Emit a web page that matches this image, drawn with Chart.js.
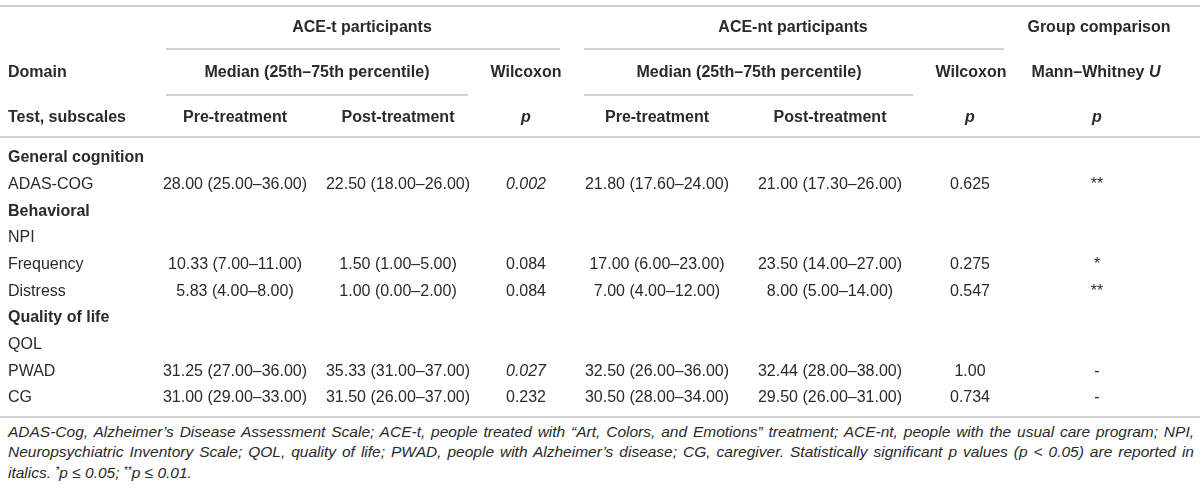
<!DOCTYPE html>
<html>
<head>
<meta charset="utf-8">
<script src="https://cdn.jsdelivr.net/npm/chart.js@4.4.1/dist/chart.umd.min.js"></script>
<style>
  body { margin: 0; background: #fff; }
  #wrap { position: relative; width: 1200px; height: 490px; }
  #note {
    position: absolute; left: 8px; top: 422px; width: 1186px;
    font-family: "Liberation Sans", Arial, sans-serif; font-style: italic; font-size: 14px;
    color: #2a2a2a; line-height: 19.5px;
  }
  #note div { white-space: nowrap; }
  #note .j { text-align: justify; text-align-last: justify; }
  #note sup { font-size: 0.65em; vertical-align: 0.35em; }
</style>
</head>
<body>
<div id="wrap">
  <canvas id="table" width="1200" height="420"></canvas>
  <div id="note">
    <div class="j" id="note1">ADAS-Cog, Alzheimer’s Disease Assessment Scale; ACE-t, people treated with “Art, Colors, and Emotions” treatment; ACE-nt, people with the usual care program; NPI,</div>
    <div class="j" id="note2">Neuropsychiatric Inventory Scale; QOL, quality of life; PWAD, people with Alzheimer’s disease; CG, caregiver. Statistically significant p values (p &lt; 0.05) are reported in</div>
    <div>italics. <sup>*</sup>p ≤ 0.05; <sup>**</sup>p ≤ 0.01.</div>
  </div>
</div>
<script>
// table content (underscores mark italic text)
const groupHeaders = ["ACE-t participants", "ACE-nt participants", "Group comparison"];
const statHeaders = ["Domain", "Median (25th–75th percentile)", "Wilcoxon", "Median (25th–75th percentile)", "Wilcoxon", "Mann–Whitney _U_"];
const columnHeaders = ["Test, subscales", "Pre-treatment", "Post-treatment", "_p_", "Pre-treatment", "Post-treatment", "_p_", "_p_"];

const rowLabels = ["General cognition", "ADAS-COG", "Behavioral", "NPI", "Frequency", "Distress", "Quality of life", "QOL", "PWAD", "CG"];
const sectionRows = [0, 2, 6];

// median, 25th, 75th percentile
const acetPre = [null, [28.00, 25.00, 36.00], null, null, [10.33, 7.00, 11.00], [5.83, 4.00, 8.00], null, null, [31.25, 27.00, 36.00], [31.00, 29.00, 33.00]];
const acetPost = [null, [22.50, 18.00, 26.00], null, null, [1.50, 1.00, 5.00], [1.00, 0.00, 2.00], null, null, [35.33, 31.00, 37.00], [31.50, 26.00, 37.00]];
const acetWilcoxon = [null, "0.002", null, null, "0.084", "0.084", null, null, "0.027", "0.232"];
const acentPre = [null, [21.80, 17.60, 24.00], null, null, [17.00, 6.00, 23.00], [7.00, 4.00, 12.00], null, null, [32.50, 26.00, 36.00], [30.50, 28.00, 34.00]];
const acentPost = [null, [21.00, 17.30, 26.00], null, null, [23.50, 14.00, 27.00], [8.00, 5.00, 14.00], null, null, [32.44, 28.00, 38.00], [29.50, 26.00, 31.00]];
const acentWilcoxon = [null, "0.625", null, null, "0.275", "0.547", null, null, "1.00", "0.734"];
const mannWhitney = [null, "**", null, null, "*", "**", null, null, "-", "-"];

// layout
const TEXT = "#2a2a2a";
const RULE = "#d0d0d0";
const FONT = "\"Liberation Sans\", Arial, sans-serif";
const SIZE = 16;
const colX = [8, 235, 398, 526, 657, 830, 970, 1097];
const groupX = [362, 793, 1099];
const statX = [8, 317, 526, 749, 971, 1096];
const headerRows = [-4.9, -3.22, -1.5];

function fmtRange(v) {
  return v ? `${v[0].toFixed(2)} (${v[1].toFixed(2)}–${v[2].toFixed(2)})` : null;
}
function fmtP(p) {
  if (!p) return null;
  return parseFloat(p) < 0.05 ? `_${p}_` : p;
}

const bodyColumns = [
  rowLabels,
  acetPre.map(fmtRange),
  acetPost.map(fmtRange),
  acetWilcoxon.map(fmtP),
  acentPre.map(fmtRange),
  acentPost.map(fmtRange),
  acentWilcoxon.map(fmtP),
  mannWhitney
];

const cells = [];
groupHeaders.forEach((t, i) => cells.push({ x: groupX[i], y: headerRows[0], text: t, bold: true }));
statHeaders.forEach((t, i) => cells.push({ x: statX[i], y: headerRows[1], text: t, bold: true, align: i === 0 ? "left" : "center" }));
columnHeaders.forEach((t, i) => cells.push({ x: colX[i], y: headerRows[2], text: t, bold: true, align: i === 0 ? "left" : "center" }));
bodyColumns.forEach((col, c) => {
  col.forEach((t, r) => {
    if (t === null) return;
    cells.push({ x: colX[c], y: r, text: t, bold: c === 0 && sectionRows.includes(r), align: c === 0 ? "left" : "center" });
  });
});

// horizontal rules: [y in row units, x from, x to]
const rules = [
  [-5.7, 0, 1200],
  [-4.09, 166, 560], [-4.09, 584, 1004],
  [-2.36, 166, 468], [-2.36, 584, 913],
  [-0.79, 0, 1200],
  [9.71, 0, 1200]
];

const ruleSets = rules.map(([y, x0, x1]) => ({
  data: [{ x: x0, y }, { x: x1, y }],
  showLine: true,
  borderColor: RULE,
  borderWidth: 2,
  pointRadius: 0
}));

function drawRich(ctx, text, x, y, align, bold) {
  const parts = text.split("_").map((s, i) => ({ s, italic: i % 2 === 1 })).filter(p => p.s);
  const fontOf = p => `${p.italic ? "italic " : ""}${bold ? "bold " : ""}${SIZE}px ${FONT}`;
  let total = 0;
  parts.forEach(p => { ctx.font = fontOf(p); p.w = ctx.measureText(p.s).width; total += p.w; });
  let cx = align === "left" ? x : x - total / 2;
  ctx.textAlign = "left";
  ctx.textBaseline = "middle";
  ctx.fillStyle = TEXT;
  parts.forEach(p => { ctx.font = fontOf(p); ctx.fillText(p.s, cx, y); cx += p.w; });
}

const cellText = {
  id: "cellText",
  afterDatasetsDraw(chart) {
    const ctx = chart.ctx;
    chart.data.datasets.forEach((ds, di) => {
      if (!ds.isCells) return;
      chart.getDatasetMeta(di).data.forEach((pt, i) => {
        const cell = ds.data[i];
        drawRich(ctx, cell.text, pt.x, pt.y, cell.align || "center", cell.bold);
      });
    });
  }
};

new Chart(document.getElementById("table"), {
  type: "scatter",
  data: {
    datasets: [
      ...ruleSets,
      { isCells: true, data: cells, pointRadius: 0, showLine: false }
    ]
  },
  options: {
    responsive: false,
    animation: false,
    events: [],
    layout: { padding: 0 },
    plugins: { legend: { display: false }, tooltip: { enabled: false } },
    scales: {
      x: { type: "linear", display: false, min: 0, max: 1200 },
      y: { type: "linear", display: false, reverse: true, min: -5.925, max: 9.825 }
    }
  },
  plugins: [cellText]
});

// fit the footnote font so the two full lines fill the width with normal spacing
(function fitNote() {
  const m = document.createElement("canvas").getContext("2d");
  m.font = `italic 14px ${FONT}`;
  const widest = Math.max(
    m.measureText(document.getElementById("note1").textContent).width,
    m.measureText(document.getElementById("note2").textContent).width
  );
  const size = Math.min(15.5, 14 * 1184 / widest);
  document.getElementById("note").style.fontSize = size.toFixed(2) + "px";
})();
</script>
</body>
</html>
